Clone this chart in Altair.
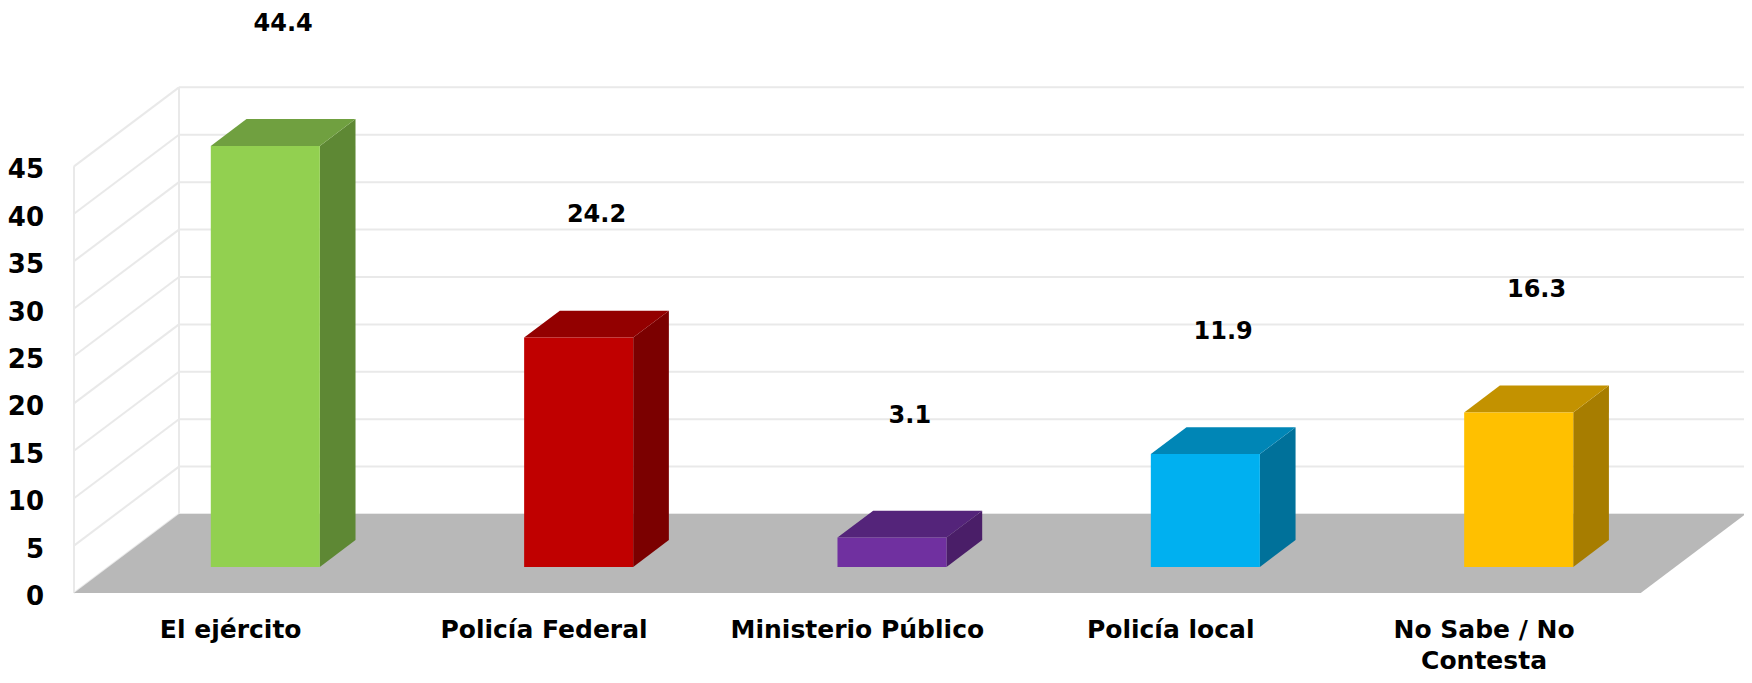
import altair as alt
import pandas as pd

# ---------------- data ----------------
categories = ["El ejército", "Policía Federal", "Ministerio Público", "Policía local", "No Sabe / No Contesta"]
axis_labels = ["El ejército", "Policía Federal", "Ministerio Público", "Policía local", "No Sabe / No\nContesta"]
values = [44.4, 24.2, 3.1, 11.9, 16.3]
front_colors = ["#92D050", "#C00000", "#7030A0", "#00B0F0", "#FFC000"]
top_colors = ["#70A040", "#930000", "#54247A", "#0086B6", "#C39200"]
side_colors = ["#5E8834", "#7B0000", "#4A1E68", "#00719A", "#A77D00"]
y_ticks = [0, 5, 10, 15, 20, 25, 30, 35, 40, 45]

# ---------------- 3-D geometry (data units) ----------------
N = len(categories)
DX = 0.335      # depth shift along x, in category units
DY = 8.33       # depth shift along y, in value units
BAR_W = 0.348   # bar width as share of a category slot
D0, D1 = 0.33, 0.67   # bar front / back depth fraction
LABEL_GAP = 11.45
X_MAX = 5.32
Y_MAX = 61.7

FONT = "DejaVu Sans"

xs = alt.Scale(domain=[0, X_MAX], nice=False, zero=False)
ys = alt.Scale(domain=[0, Y_MAX], nice=False, zero=False)

front_rows, side_rows, top_rows, lab_rows, xlab_rows = [], [], [], [], []
for i, (c, v) in enumerate(zip(categories, values)):
    xl = i + (1 - BAR_W) / 2
    xr = i + (1 + BAR_W) / 2
    front_rows.append(dict(cat=c, x=xl + D0 * DX, x2=xr + D0 * DX, y=D0 * DY, y2=v + D0 * DY))
    for d in (D0, D1):
        side_rows.append(dict(cat=c, x=xr + d * DX, y=d * DY, y2=v + d * DY))
        top_rows.append(dict(cat=c, y=v + d * DY, x=xl + d * DX, x2=xr + d * DX))
    lab_rows.append(dict(cat=c, x=i + 0.5 + 0.5 * DX, y=v + 0.5 * DY + LABEL_GAP, v=v))
    xlab_rows.append(dict(cat=c, x=i + 0.5, y=0, t=axis_labels[i]))

front_df = pd.DataFrame(front_rows)
side_df = pd.DataFrame(side_rows)
top_df = pd.DataFrame(top_rows)
lab_df = pd.DataFrame(lab_rows)
xlab_df = pd.DataFrame(xlab_rows)
ytick_df = pd.DataFrame(dict(x=[0] * len(y_ticks), y=y_ticks, t=[str(t) for t in y_ticks]))

floor_df = pd.DataFrame([
    dict(y=0, x=0, x2=N),
    dict(y=DY, x=DX, x2=N + DX),
])
back_grid_df = pd.DataFrame([dict(y=t + DY, x=DX, x2=N + DX) for t in y_ticks])
side_grid_df = pd.DataFrame([dict(x=0, y=t, x2=DX, y2=t + DY) for t in y_ticks])
verts_df = pd.DataFrame([
    dict(x=0, y=0, y2=y_ticks[-1]),
    dict(x=DX, y=DY, y2=y_ticks[-1] + DY),
])

GRID = "#E9E9E9"
X = lambda: alt.X("x:Q", scale=xs, axis=None)
Y = lambda: alt.Y("y:Q", scale=ys, axis=None)

def cscale(rng):
    return alt.Color("cat:N", scale=alt.Scale(domain=categories, range=rng), legend=None)

back_grid = alt.Chart(back_grid_df).mark_rule(color=GRID, strokeWidth=2).encode(
    x=X(), x2="x2:Q", y=Y())

side_grid = alt.Chart(side_grid_df).mark_rule(color=GRID, strokeWidth=2).encode(
    x=X(), x2="x2:Q", y=Y(), y2="y2:Q")

verts = alt.Chart(verts_df).mark_rule(color=GRID, strokeWidth=2).encode(
    x=X(), y=Y(), y2="y2:Q")

floor = alt.Chart(floor_df).mark_area(orient="horizontal", color="#B8B8B8").encode(
    y=Y(), x=X(), x2="x2:Q")

side = alt.Chart(side_df).mark_area(orient="vertical").encode(
    x=X(), y=Y(), y2="y2:Q", color=cscale(side_colors), detail="cat:N")

top = alt.Chart(top_df).mark_area(orient="horizontal").encode(
    y=Y(), x=X(), x2="x2:Q", color=cscale(top_colors), detail="cat:N")

front = alt.Chart(front_df).mark_rect().encode(
    x=X(), x2="x2:Q", y=Y(), y2="y2:Q", color=cscale(front_colors))

labels = alt.Chart(lab_df).mark_text(
    font=FONT, fontSize=24, fontWeight="bold", color="#000000", baseline="middle", align="center"
).encode(x=X(), y=Y(), text=alt.Text("v:Q", format=".1f"))

xlabels = alt.Chart(xlab_df).mark_text(
    font=FONT, fontSize=25, fontWeight="bold", color="#000000", baseline="alphabetic",
    align="center", lineBreak="\n", lineHeight=31, dy=45
).encode(x=X(), y=Y(), text="t:N")

yticks = alt.Chart(ytick_df).mark_text(
    font=FONT, fontSize=26, fontWeight="bold", color="#000000", baseline="middle",
    align="right", dx=-30, dy=4
).encode(x=X(), y=Y(), text="t:N")

chart = alt.layer(
    back_grid, side_grid, verts, floor, side, top, front, labels, xlabels, yticks
).resolve_scale(color="independent").properties(
    width=1667, height=585,
    autosize=alt.AutoSizeParams(type="none"),
    padding={"left": 66, "top": 0, "right": 3, "bottom": 82},
    background="#FFFFFF",
).configure_view(strokeWidth=0)

chart.save("out.html", embed_options={"renderer": "svg", "actions": False})
